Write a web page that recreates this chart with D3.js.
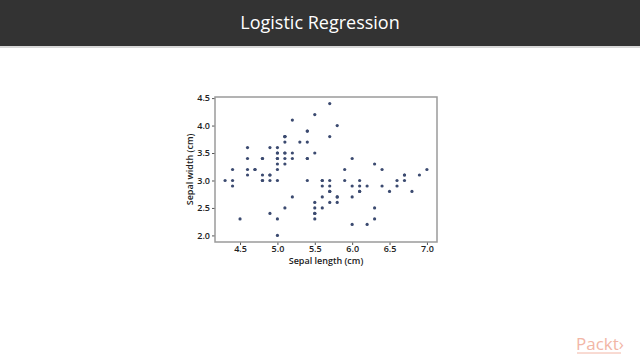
<!DOCTYPE html>
<html>
<head>
<meta charset="utf-8">
<script src="https://cdn.jsdelivr.net/npm/d3@7"></script>
<style>
  body { margin: 0; background: #fff; }
  svg { display: block; }
</style>
</head>
<body>
<svg id="chart" width="640" height="360"></svg>
<script>
// iris, first 100 samples (setosa + versicolor)
let sepalLength = [5.1,4.9,4.7,4.6,5.0,5.4,4.6,5.0,4.4,4.9,5.4,4.8,4.8,4.3,5.8,5.7,5.4,5.1,5.7,5.1,
                   5.4,5.1,4.6,5.1,4.8,5.0,5.0,5.2,5.2,4.7,4.8,5.4,5.2,5.5,4.9,5.0,5.5,4.9,4.4,5.1,
                   5.0,4.5,4.4,5.0,5.1,4.8,5.1,4.6,5.3,5.0,
                   7.0,6.4,6.9,5.5,6.5,5.7,6.3,4.9,6.6,5.2,5.0,5.9,6.0,6.1,5.6,6.7,5.6,5.8,6.2,5.6,
                   5.9,6.1,6.3,6.1,6.4,6.6,6.8,6.7,6.0,5.7,5.5,5.5,5.8,6.0,5.4,6.0,6.7,6.3,5.6,5.5,
                   5.5,6.1,5.8,5.0,5.6,5.7,5.7,6.2,5.1,5.7];
let sepalWidth = [3.5,3.0,3.2,3.1,3.6,3.9,3.4,3.4,2.9,3.1,3.7,3.4,3.0,3.0,4.0,4.4,3.9,3.5,3.8,3.8,
                  3.4,3.7,3.6,3.3,3.4,3.0,3.4,3.5,3.4,3.2,3.1,3.4,4.1,4.2,3.1,3.2,3.5,3.6,3.0,3.4,
                  3.5,2.3,3.2,3.5,3.8,3.0,3.8,3.2,3.7,3.3,
                  3.2,3.2,3.1,2.3,2.8,2.8,3.3,2.4,2.9,2.7,2.0,3.0,2.2,2.9,2.9,3.1,3.0,2.7,2.2,2.5,
                  3.2,2.8,2.5,2.8,2.9,3.0,2.8,3.0,2.9,2.6,2.4,2.4,2.7,2.7,3.0,3.4,3.1,2.3,3.0,2.5,
                  2.6,3.0,2.6,2.3,2.7,3.0,2.9,2.9,2.5,2.8];
let xTicks = [4.5, 5.0, 5.5, 6.0, 6.5, 7.0];
let yTicks = [2.0, 2.5, 3.0, 3.5, 4.0, 4.5];

let svg = d3.select("#chart");

// title bar
svg.append("rect").attr("x", 0).attr("y", 0).attr("width", 640).attr("height", 46).attr("fill", "#333333");
svg.append("rect").attr("x", 0).attr("y", 46).attr("width", 640).attr("height", 2).attr("fill", "#d8d8d8");
svg.append("text")
    .attr("x", 320).attr("y", 29)
    .attr("text-anchor", "middle")
    .attr("fill", "#ffffff")
    .style("font-family", "'Open Sans', sans-serif")
    .style("font-size", "18px")
    .text("Logistic Regression");

let plotLeft = 215, plotRight = 437, plotTop = 97, plotBottom = 242;

let x = d3.scaleLinear().domain([4.165, 7.135]).range([plotLeft, plotRight]);
let y = d3.scaleLinear().domain([1.88, 4.52]).range([plotBottom, plotTop]);

let labelFont = "'Open Sans', sans-serif";

let xAxis = svg.append("g")
    .attr("transform", "translate(0," + plotBottom + ")")
    .call(d3.axisBottom(x).tickValues(xTicks).tickFormat(d3.format(".1f")).tickSize(3).tickPadding(1));
let yAxis = svg.append("g")
    .attr("transform", "translate(" + plotLeft + ",0)")
    .call(d3.axisLeft(y).tickValues(yTicks).tickFormat(d3.format(".1f")).tickSize(3).tickPadding(2));

[xAxis, yAxis].forEach(function(a){
    a.select(".domain").remove();
    a.selectAll(".tick line").attr("stroke", "#555");
    a.selectAll(".tick text")
        .attr("fill", "#222")
        .style("font-family", labelFont)
        .style("font-size", "9px")
        .style("font-weight", "600");
});

// frame
svg.append("rect")
    .attr("x", plotLeft).attr("y", plotTop)
    .attr("width", plotRight - plotLeft).attr("height", plotBottom - plotTop)
    .attr("fill", "none")
    .attr("stroke", "#9a9a9a")
    .attr("stroke-width", 1.5);

svg.append("g")
    .selectAll("circle")
    .data(sepalLength.map(function(d, i){ return [d, sepalWidth[i]]; }))
    .enter().append("circle")
    .attr("cx", function(d){ return x(d[0]); })
    .attr("cy", function(d){ return y(d[1]); })
    .attr("r", 1.6)
    .attr("fill", "#3b4a70");

svg.append("text")
    .attr("x", (plotLeft + plotRight) / 2).attr("y", 264)
    .attr("text-anchor", "middle")
    .attr("fill", "#222")
    .style("font-family", labelFont)
    .style("font-size", "9px")
    .style("font-weight", "600")
    .text("Sepal length (cm)");

svg.append("text")
    .attr("transform", "translate(193," + ((plotTop + plotBottom) / 2) + ") rotate(-90)")
    .attr("text-anchor", "middle")
    .attr("fill", "#222")
    .style("font-family", labelFont)
    .style("font-size", "9px")
    .style("font-weight", "600")
    .text("Sepal width (cm)");

// logo
let logo = svg.append("text")
    .attr("x", 576).attr("y", 350)
    .attr("fill", "#f2b6a6")
    .style("font-family", labelFont)
    .style("font-size", "17px");
logo.append("tspan").text("Packt");
logo.append("tspan").text("›");
svg.append("line")
    .attr("x1", 577).attr("x2", 621).attr("y1", 353).attr("y2", 353)
    .attr("stroke", "#f2b6a6").attr("stroke-width", 1);
</script>
</body>
</html>
